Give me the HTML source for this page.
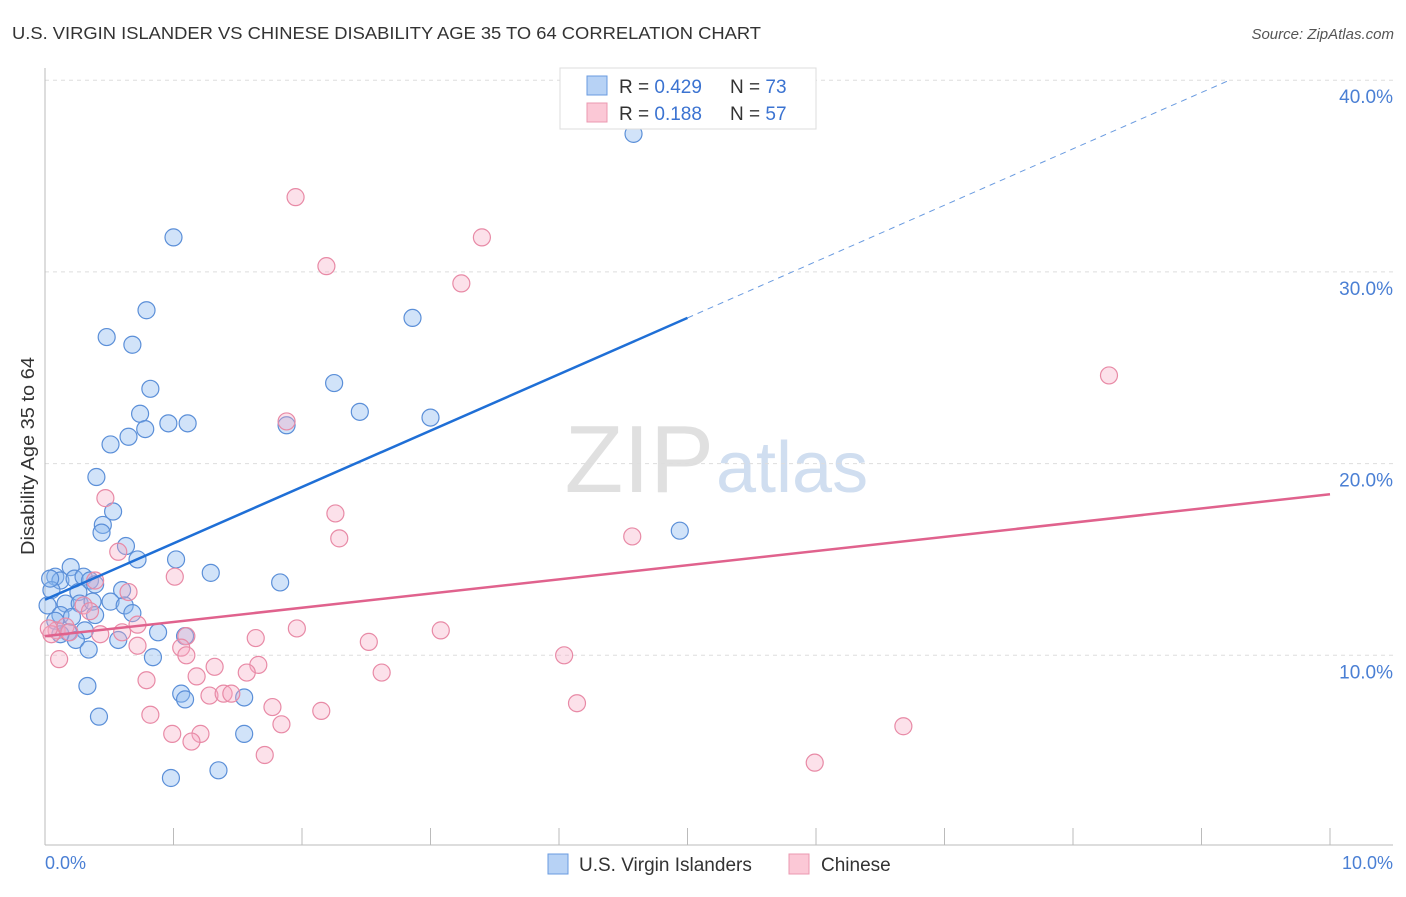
<!DOCTYPE html>
<html><head><meta charset="utf-8"><style>
body{margin:0;background:#fff;font-family:"Liberation Sans",sans-serif;}
svg text{font-family:"Liberation Sans",sans-serif;}
</style></head><body>
<svg id="chart" width="1406" height="892">
<text x="12" y="39" font-size="17.5" fill="#333" textLength="749" lengthAdjust="spacingAndGlyphs">U.S. VIRGIN ISLANDER VS CHINESE DISABILITY AGE 35 TO 64 CORRELATION CHART</text>
<text x="1394" y="39" font-size="15" fill="#555" text-anchor="end" font-style="italic">Source: ZipAtlas.com</text>
<text x="714" y="492" font-size="96" fill="#e0e0e0" text-anchor="end" font-family="Liberation Serif">ZIP</text>
<text x="716" y="492" font-size="72" fill="#d0def0">atlas</text>
<g id="grid"></g>
<g id="axes"></g>
<g id="marks"></g>
<text transform="translate(34,456) rotate(-90)" font-size="18" fill="#333" text-anchor="middle" textLength="198" lengthAdjust="spacingAndGlyphs">Disability Age 35 to 64</text>
<text x="45" y="869" font-size="18" fill="#4a7fd4">0.0%</text>
<text x="1393" y="869" font-size="18" fill="#4a7fd4" text-anchor="end">10.0%</text>
<g>
<rect x="560" y="68" width="256" height="61" fill="#fff" stroke="#ddd"/>
<rect x="587" y="76" width="20" height="19" fill="#b7d2f5" stroke="#6a9be0"/>
<rect x="587" y="103" width="20" height="19" fill="#fbc8d6" stroke="#eb98b0"/>
<text x="619" y="93" font-size="19" fill="#333">R = <tspan fill="#3b73d1">0.429</tspan></text>
<text x="730" y="93" font-size="19" fill="#333">N = <tspan fill="#3b73d1">73</tspan></text>
<text x="619" y="120" font-size="19" fill="#333">R = <tspan fill="#3b73d1"> 0.188</tspan></text>
<text x="730" y="120" font-size="19" fill="#333">N = <tspan fill="#3b73d1">57</tspan></text>
</g>
<g>
<rect x="548" y="854" width="20" height="20" fill="#b7d2f5" stroke="#6a9be0"/>
<text x="579" y="871" font-size="19" fill="#333">U.S. Virgin Islanders</text>
<rect x="789" y="854" width="20" height="20" fill="#fbc8d6" stroke="#eb98b0"/>
<text x="821" y="871" font-size="19" fill="#333">Chinese</text>
</g>
</svg>
<script>
const yTicks=[10,20,30,40];
const yTickLabels=["10.0%","20.0%","30.0%","40.0%"];
const xTicks=[1,2,3,4,5,6,7,8,9,10];
const blueX=[4.58,1.0,0.79,0.48,0.68,2.86,0.82,2.25,0.74,2.45,3.0,0.96,1.11,1.88,0.78,0.65,0.51,0.40,0.53,0.45,0.44,0.63,0.72,1.02,4.94,1.29,1.83,0.2,0.08,0.12,0.23,0.30,0.35,0.39,0.05,0.26,0.60,0.02,0.16,0.27,0.37,0.51,0.62,0.68,0.12,0.21,0.39,0.08,0.31,0.18,0.88,0.57,1.09,0.24,0.34,0.84,0.33,1.06,1.09,1.55,0.42,1.55,1.35,0.98,0.12,0.04];
const blueY=[37.2,31.8,28.0,26.6,26.2,27.6,23.9,24.2,22.6,22.7,22.4,22.1,22.1,22.0,21.8,21.4,21.0,19.3,17.5,16.8,16.4,15.7,15.0,15.0,16.5,14.3,13.8,14.6,14.1,13.9,14.0,14.1,13.9,13.7,13.4,13.3,13.4,12.6,12.7,12.7,12.8,12.8,12.6,12.2,12.1,12.0,12.1,11.8,11.3,11.2,11.2,10.8,11.0,10.8,10.3,9.9,8.4,8.0,7.7,7.8,6.8,5.9,4.0,3.6,11.1,14.0];
const pinkX=[1.95,3.40,2.19,3.24,8.28,1.88,0.47,2.26,2.29,4.57,0.57,1.01,0.39,0.65,0.30,0.35,0.72,1.96,3.08,0.09,0.16,0.43,0.60,0.05,1.1,1.64,2.52,1.06,1.1,0.72,0.11,4.04,1.66,1.32,1.57,1.18,2.62,0.79,1.28,1.39,1.45,1.77,2.15,4.14,0.82,1.84,6.68,0.99,1.21,1.14,1.71,5.99,0.03,0.19];
const pinkY=[33.9,31.8,30.3,29.4,24.6,22.2,18.2,17.4,16.1,16.2,15.4,14.1,13.9,13.3,12.6,12.3,11.6,11.4,11.3,11.3,11.5,11.1,11.2,11.1,11.0,10.9,10.7,10.4,10.0,10.5,9.8,10.0,9.5,9.4,9.1,8.9,9.1,8.7,7.9,8.0,8.0,7.3,7.1,7.5,6.9,6.4,6.3,5.9,5.9,5.5,4.8,4.4,11.4,11.2];
const blueTrend=[12.9,27.6]; // at x=0 and x=5
const blueTrendDashEnd=9.2;
const pinkTrend=[11.0,18.4]; // at x=0 and x=10

const NS="http://www.w3.org/2000/svg";
const X=v=>45+v*128.5;
const Y=v=>847-v*19.17;
function mk(parent,tag,attrs){const e=document.createElementNS(NS,tag);for(const k in attrs)e.setAttribute(k,attrs[k]);document.getElementById(parent).appendChild(e);return e;}
yTicks.forEach((t,i)=>{
 const g=mk('grid','line',{x1:45,x2:1393,y1:Y(t),y2:Y(t),stroke:'#ddd','stroke-dasharray':'4,4'});
 
 
 const l=mk('grid','text',{x:1393,y:Y(t)+23,'font-size':19,fill:'#4a7fd4','text-anchor':'end'});
 l.textContent=yTickLabels[i];
 
 
});
const ax=mk('axes','line',{x1:45,x2:45,y1:68,y2:845,stroke:'#bbb'});


const bx=mk('axes','line',{x1:45,x2:1393,y1:845,y2:845,stroke:'#bbb'});


xTicks.forEach(t=>{
 const k=mk('axes','line',{x1:X(t),x2:X(t),y1:828,y2:845,stroke:'#bbb'});
 
 
});
blueX.forEach((x,i)=>{
 const c=mk('marks','circle',{cx:X(x),cy:Y(blueY[i]),r:8.5,fill:'rgba(140,185,240,0.4)',stroke:'#5b8fd8','stroke-width':1.2});
 
 
});
pinkX.forEach((x,i)=>{
 const c=mk('marks','circle',{cx:X(x),cy:Y(pinkY[i]),r:8.5,fill:'rgba(245,170,195,0.35)',stroke:'#e88aa6','stroke-width':1.2});
 
 
});
const bs=(blueTrend[1]-blueTrend[0])/5;
const bl=mk('marks','line',{x1:X(0),y1:Y(blueTrend[0]),x2:X(5),y2:Y(blueTrend[1]),stroke:'#1f6fd6','stroke-width':2.5});


const bd=mk('marks','line',{x1:X(5),y1:Y(blueTrend[1]),x2:X(blueTrendDashEnd),y2:Y(blueTrend[0]+bs*blueTrendDashEnd),stroke:'#6a9be0','stroke-width':1,'stroke-dasharray':'6,5'});


const pl=mk('marks','line',{x1:X(0),y1:Y(pinkTrend[0]),x2:X(10),y2:Y(pinkTrend[1]),stroke:'#e0628d','stroke-width':2.5});


</script>
</body></html>
